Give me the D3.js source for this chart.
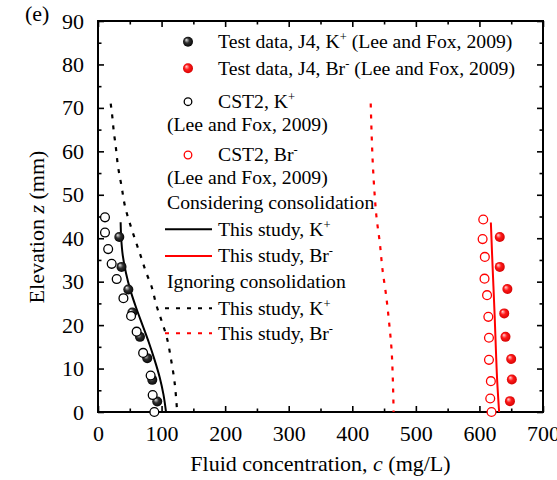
<!DOCTYPE html>
<html><head><meta charset="utf-8">
<script src="https://cdn.jsdelivr.net/npm/d3@7"></script>
<style>body{margin:0;background:#fff}svg{display:block}text{font-family:"Liberation Serif","Times New Roman",serif;fill:#000}</style>
</head><body><svg id="c" width="557" height="480"></svg>
<script>
// Data (c in mg/L, z in mm)
const testK_c = [33.5, 37, 47.7, 54, 66, 77.5, 85.4, 93.2];
const testK_z = [40.3, 33.4, 28.2, 22.9, 17.3, 12.4, 7.4, 2.4];
const testBr_c = [632, 632, 644, 639, 641, 650, 651, 648];
const testBr_z = [40.3, 33.4, 28.3, 22.7, 17.3, 12.2, 7.5, 2.5];
const cstK_c = [11, 11, 16, 21.5, 29.4, 40, 52, 60.8, 71, 82.8, 86, 88.6];
const cstK_z = [44.8, 41.3, 37.5, 34.1, 30.6, 26.2, 22.1, 18.5, 13.6, 8.4, 3.9, 0];
const cstBr_c = [606, 605, 608.5, 608, 612, 614, 615, 615, 618, 617, 619];
const cstBr_z = [44.3, 39.8, 35.7, 30.7, 26.9, 21.9, 17.1, 12, 7.1, 3.1, 0];
const consK_c = [35.6, 36.5, 39, 44, 51, 60, 70, 80, 89, 97, 103, 107];
const consK_z = [43.7, 40, 36, 32, 28, 24, 20, 16, 12, 8, 4, 0];
const consBr_c = [618, 620, 622, 624, 626, 628, 631];
const consBr_z = [43.6, 36, 29, 22, 14, 7, 0];
const ignK_c = [20, 22.5, 24.5, 28, 31.5, 37, 43, 51, 60, 67, 76, 84, 92, 100, 108, 115, 120, 123, 124.5];
const ignK_z = [71, 68, 65, 61, 56.5, 52, 47, 43, 39, 36, 32, 29, 24.5, 21, 17.3, 12, 7.4, 3, 0];
const ignBr_c = [429, 430.3, 432, 434.5, 438, 443.4, 447.6, 452.8, 457.5, 461.8, 463.8, 465];
const ignBr_z = [71, 64.5, 58, 51.5, 45, 38.8, 32.7, 27.3, 21.2, 14.3, 7.4, 0];
const xTicks = [0, 100, 200, 300, 400, 500, 600, 700];
const yTicks = [0, 10, 20, 30, 40, 50, 60, 70, 80, 90];

const svg = d3.select("#c");
const L = 98, R = 543, T = 21, B = 412;
const x = d3.scaleLinear().domain([0, 700]).range([L, R]);
const y = d3.scaleLinear().domain([0, 90]).range([B, T]);

const defs = svg.append("defs");
function grad(id, s0, s1, s2) {
  const g = defs.append("radialGradient").attr("id", id)
    .attr("cx", "50%").attr("cy", "50%").attr("r", "55%").attr("fx", "32%").attr("fy", "30%");
  g.append("stop").attr("offset", "0%").attr("stop-color", s0);
  g.append("stop").attr("offset", "45%").attr("stop-color", s1);
  g.append("stop").attr("offset", "100%").attr("stop-color", s2);
}
grad("gk", "#e8e8e8", "#303030", "#000");
grad("gr", "#ffd6d6", "#ff1a1a", "#d00000");

// Axes with inward ticks, mirrored
const fs = 22;
function styleAxis(g) {
  g.select(".domain").remove();
  g.selectAll("line").attr("stroke", "#000").attr("stroke-width", 1.6);
  g.selectAll("text").style("font-size", fs + "px").attr("fill", "#000");
}
const minorX = d3.range(50, 700, 100);
const minorY = d3.range(5, 90, 10);
svg.append("g").attr("transform", `translate(0,${B})`)
  .call(d3.axisBottom(x).tickValues(xTicks).tickSizeInner(-6).tickSizeOuter(0).tickPadding(13).tickFormat(d3.format("d"))).call(styleAxis);
svg.append("g").attr("transform", `translate(0,${B})`)
  .call(d3.axisBottom(x).tickValues(minorX).tickSizeInner(-3.5).tickSizeOuter(0).tickFormat("")).call(styleAxis);
svg.append("g").attr("transform", `translate(0,${T})`)
  .call(d3.axisTop(x).tickValues(xTicks).tickSizeInner(-6).tickSizeOuter(0).tickFormat("")).call(styleAxis);
svg.append("g").attr("transform", `translate(0,${T})`)
  .call(d3.axisTop(x).tickValues(minorX).tickSizeInner(-3.5).tickSizeOuter(0).tickFormat("")).call(styleAxis);
svg.append("g").attr("transform", `translate(${L},0)`)
  .call(d3.axisLeft(y).tickValues(yTicks).tickSizeInner(-6).tickSizeOuter(0).tickPadding(14).tickFormat(d3.format("d"))).call(styleAxis);
svg.append("g").attr("transform", `translate(${L},0)`)
  .call(d3.axisLeft(y).tickValues(minorY).tickSizeInner(-3.5).tickSizeOuter(0).tickFormat("")).call(styleAxis);
svg.append("g").attr("transform", `translate(${R},0)`)
  .call(d3.axisRight(y).tickValues(yTicks).tickSizeInner(-6).tickSizeOuter(0).tickFormat("")).call(styleAxis);
svg.append("g").attr("transform", `translate(${R},0)`)
  .call(d3.axisRight(y).tickValues(minorY).tickSizeInner(-3.5).tickSizeOuter(0).tickFormat("")).call(styleAxis);
svg.append("rect").attr("x", L).attr("y", T).attr("width", R - L).attr("height", B - T)
  .attr("fill", "none").attr("stroke", "#000").attr("stroke-width", 2);

// Lines
const line = d3.line().curve(d3.curveMonotoneY);
function drawLine(cs, zs, color, dash) {
  svg.append("path").datum(cs.map((c, i) => [x(c), y(zs[i])]))
    .attr("d", line).attr("fill", "none").attr("stroke", color)
    .attr("stroke-width", dash ? 2.2 : 2).attr("stroke-dasharray", dash ? "4,7" : null);
}
drawLine(ignK_c, ignK_z, "#000", true);
drawLine(ignBr_c, ignBr_z, "#ff0000", true);
drawLine(consK_c, consK_z, "#000", false);
drawLine(consBr_c, consBr_z, "#ff0000", false);

// Points
function spheres(cs, zs, gid) {
  svg.append("g").selectAll("circle").data(cs).join("circle")
    .attr("cx", d => x(d)).attr("cy", (d, i) => y(zs[i])).attr("r", 5)
    .attr("fill", `url(#${gid})`);
}
function opens(cs, zs, color) {
  svg.append("g").selectAll("circle").data(cs).join("circle")
    .attr("cx", d => x(d)).attr("cy", (d, i) => y(zs[i])).attr("r", 4.4)
    .attr("fill", "#fff").attr("stroke", color).attr("stroke-width", 1.3);
}
spheres(testK_c, testK_z, "gk");
spheres(testBr_c, testBr_z, "gr");
opens(cstK_c, cstK_z, "#000");
opens(cstBr_c, cstBr_z, "#ff0000");

// Legend
const lfs = 19.7;
const mx = 188, tx = 218, hx = 167;
function ltext(xp, yc, parts) {
  const t = svg.append("text").attr("x", xp).attr("y", yc + 6.3).style("font-size", lfs + "px");
  let shifted = false;
  parts.forEach(p => {
    if (typeof p === "string") {
      const s = t.append("tspan").text(p);
      if (shifted) { s.attr("dy", 7); shifted = false; }
    } else {
      t.append("tspan").attr("dy", -7).style("font-size", "12.5px").text(p.sup);
      shifted = true;
    }
  });
  return t;
}
const rows = [41.7, 68.3, 101.7, 125, 155, 178, 202.7, 229.3, 256, 281.7, 308.3, 333.3];
svg.append("circle").attr("cx", mx).attr("cy", rows[0]).attr("r", 5).attr("fill", "url(#gk)");
ltext(tx, rows[0], ["Test data, J4, K", {sup: "+"}, " (Lee and Fox, 2009)"]);
svg.append("circle").attr("cx", mx).attr("cy", rows[1]).attr("r", 5).attr("fill", "url(#gr)");
ltext(tx, rows[1], ["Test data, J4, Br", {sup: "-"}, " (Lee and Fox, 2009)"]);
svg.append("circle").attr("cx", mx).attr("cy", rows[2]).attr("r", 3.8).attr("fill", "#fff").attr("stroke", "#000").attr("stroke-width", 1.3);
ltext(tx, rows[2], ["CST2, K", {sup: "+"}]);
ltext(hx, rows[3], ["(Lee and Fox, 2009)"]);
svg.append("circle").attr("cx", mx).attr("cy", rows[4]).attr("r", 3.8).attr("fill", "#fff").attr("stroke", "#ff0000").attr("stroke-width", 1.3);
ltext(tx, rows[4], ["CST2, Br", {sup: "-"}]);
ltext(hx, rows[5], ["(Lee and Fox, 2009)"]);
ltext(hx, rows[6], ["Considering consolidation"]);
function lline(yc, color, dash) {
  svg.append("line").attr("x1", 165).attr("x2", 212).attr("y1", yc).attr("y2", yc)
    .attr("stroke", color).attr("stroke-width", 2).attr("stroke-dasharray", dash ? "4,7" : null);
}
lline(rows[7], "#000", false);
ltext(tx, rows[7], ["This study, K", {sup: "+"}]);
lline(rows[8], "#ff0000", false);
ltext(tx, rows[8], ["This study, Br", {sup: "-"}]);
ltext(hx, rows[9], ["Ignoring consolidation"]);
lline(rows[10], "#000", true);
ltext(tx, rows[10], ["This study, K", {sup: "+"}]);
lline(rows[11], "#ff0000", true);
ltext(tx, rows[11], ["This study, Br", {sup: "-"}]);

// Titles
const xt = svg.append("text").attr("x", (L + R) / 2).attr("y", 471).attr("text-anchor", "middle").style("font-size", fs + "px");
xt.append("tspan").text("Fluid concentration, ");
xt.append("tspan").style("font-style", "italic").text("c");
xt.append("tspan").text(" (mg/L)");
const yt = svg.append("text").attr("transform", "translate(44,227) rotate(-90)").attr("text-anchor", "middle").style("font-size", fs + "px");
yt.append("tspan").text("Elevation ");
yt.append("tspan").style("font-style", "italic").text("z");
yt.append("tspan").text(" (mm)");
svg.append("text").attr("x", 25).attr("y", 21).style("font-size", fs + "px").text("(e)");
</script></body></html>
